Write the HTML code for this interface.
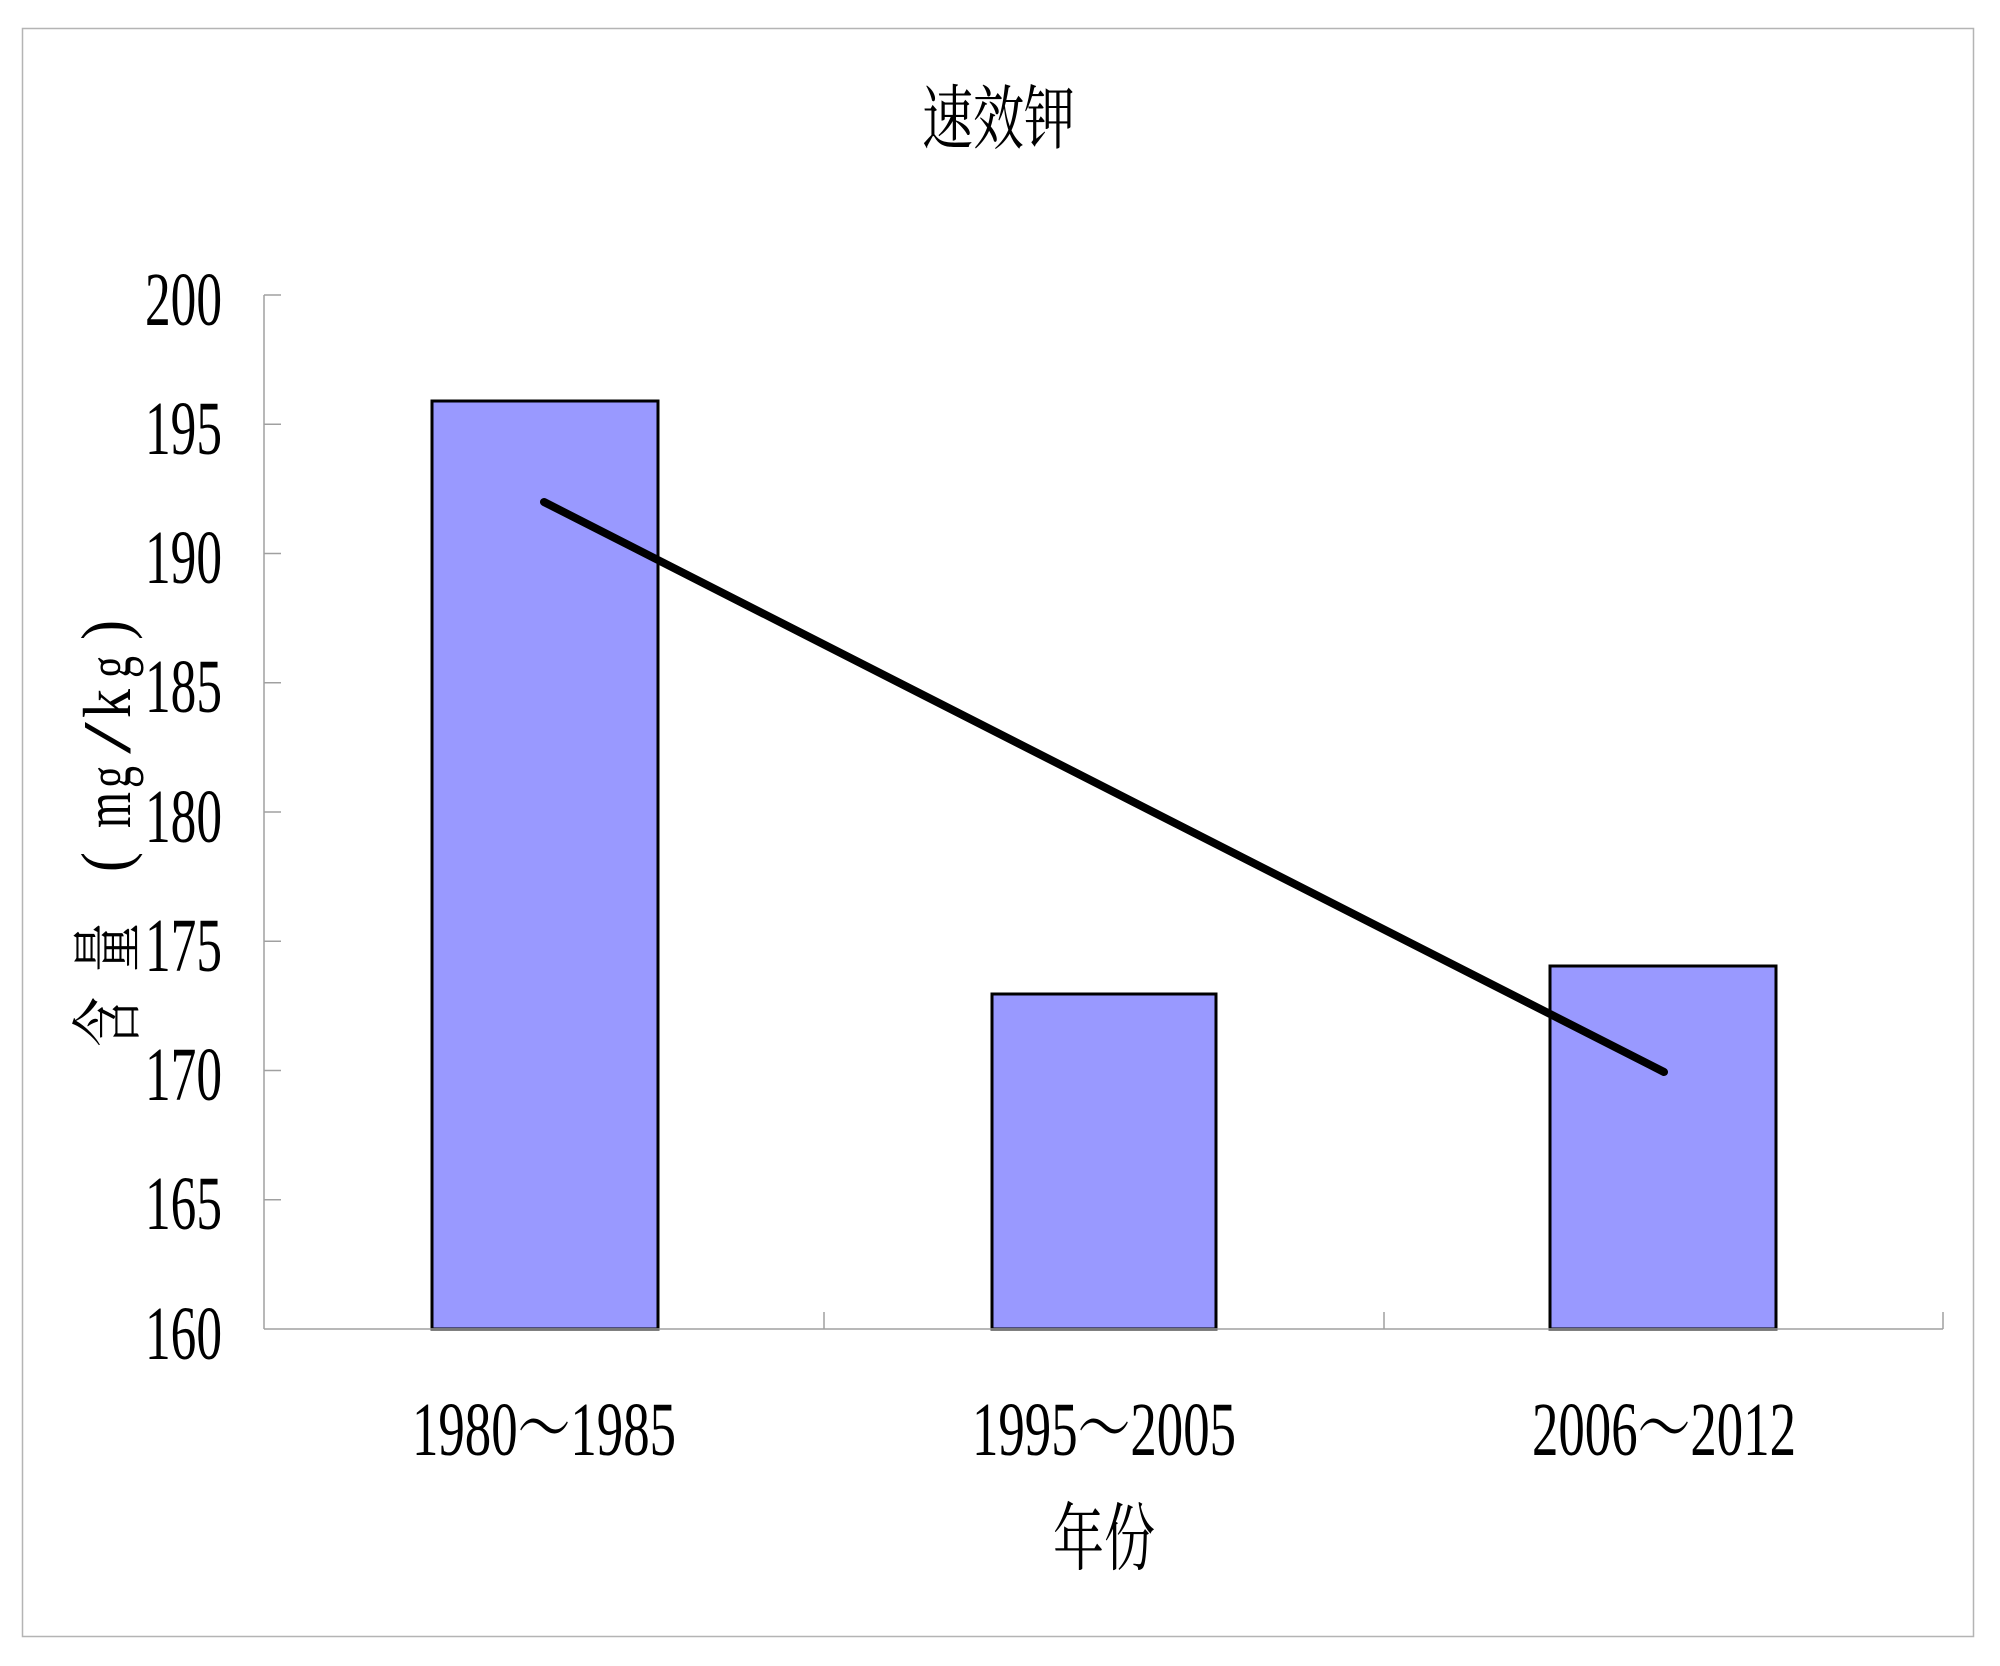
<!DOCTYPE html>
<html>
<head>
<meta charset="utf-8">
<style>
  html, body { margin: 0; padding: 0; background: #ffffff; }
  body { width: 2000px; height: 1666px; overflow: hidden; }
  svg { display: block; }
  .num { font-family: "Liberation Serif", "Noto Serif CJK SC", serif; fill: #000; }
  .cjk { font-family: "Liberation Serif", "Noto Serif CJK SC", serif; fill: #000; }
  .lat { font-family: "Liberation Serif", serif; fill: #000; }
</style>
</head>
<body>
<svg width="2000" height="1666" viewBox="0 0 2000 1666" xmlns="http://www.w3.org/2000/svg">
  <rect x="0" y="0" width="2000" height="1666" fill="#ffffff"/>
  <!-- outer chart border -->
  <rect x="22.5" y="28.5" width="1951" height="1608" fill="none" stroke="#b4b4b4" stroke-width="1.5"/>

  <!-- title -->
  <text class="cjk" x="922" y="143" font-size="70" textLength="153" lengthAdjust="spacingAndGlyphs">速效钾</text>

  <!-- y axis -->
  <line x1="264" y1="295" x2="264" y2="1329" stroke="#a0a0a0" stroke-width="1.5"/>
  <g stroke="#a0a0a0" stroke-width="1.5">
    <line x1="264" y1="295" x2="281" y2="295"/>
    <line x1="264" y1="424.25" x2="281" y2="424.25"/>
    <line x1="264" y1="553.5" x2="281" y2="553.5"/>
    <line x1="264" y1="682.75" x2="281" y2="682.75"/>
    <line x1="264" y1="812" x2="281" y2="812"/>
    <line x1="264" y1="941.25" x2="281" y2="941.25"/>
    <line x1="264" y1="1070.5" x2="281" y2="1070.5"/>
    <line x1="264" y1="1199.75" x2="281" y2="1199.75"/>
  </g>

  <!-- y tick labels -->
  <g class="num" font-size="76">
    <text x="145" y="325" textLength="77" lengthAdjust="spacingAndGlyphs">200</text>
    <text x="145" y="454" textLength="77" lengthAdjust="spacingAndGlyphs">195</text>
    <text x="145" y="583" textLength="77" lengthAdjust="spacingAndGlyphs">190</text>
    <text x="145" y="712" textLength="77" lengthAdjust="spacingAndGlyphs">185</text>
    <text x="145" y="842" textLength="77" lengthAdjust="spacingAndGlyphs">180</text>
    <text x="145" y="971" textLength="77" lengthAdjust="spacingAndGlyphs">175</text>
    <text x="145" y="1100" textLength="77" lengthAdjust="spacingAndGlyphs">170</text>
    <text x="145" y="1229" textLength="77" lengthAdjust="spacingAndGlyphs">165</text>
    <text x="145" y="1359" textLength="77" lengthAdjust="spacingAndGlyphs">160</text>
  </g>

  <!-- y axis title: rotated; in group coords u = -screenY, v = screenX -->
  <g transform="rotate(-90)">
    <text class="cjk" font-size="72" x="-1047" y="133" textLength="50" lengthAdjust="spacingAndGlyphs">含</text>
    <text class="cjk" font-size="72" x="-972" y="133" textLength="49" lengthAdjust="spacingAndGlyphs">量</text>
    <text class="lat" font-size="68" x="-872" y="128" textLength="20" lengthAdjust="spacingAndGlyphs">(</text>
    <text class="lat" font-size="68" x="-828" y="130" textLength="36" lengthAdjust="spacingAndGlyphs">m</text>
    <text class="lat" font-size="62" x="-788" y="130" textLength="22" lengthAdjust="spacingAndGlyphs">g</text>
    <text class="lat" font-size="68" x="-754" y="130" textLength="32" lengthAdjust="spacingAndGlyphs">/</text>
    <text class="lat" font-size="68" x="-718" y="130" textLength="29" lengthAdjust="spacingAndGlyphs">k</text>
    <text class="lat" font-size="62" x="-678" y="130" textLength="22" lengthAdjust="spacingAndGlyphs">g</text>
    <text class="lat" font-size="68" x="-640" y="128" textLength="20" lengthAdjust="spacingAndGlyphs">)</text>
  </g>

  <!-- bars -->
  <g fill="#9999ff" stroke="#000000" stroke-width="3">
    <rect x="432" y="401" width="226" height="928"/>
    <rect x="992" y="994" width="224" height="335"/>
    <rect x="1550" y="966" width="226" height="363"/>
  </g>

  <!-- x axis -->
  <line x1="264" y1="1329" x2="1943" y2="1329" stroke="#a0a0a0" stroke-width="1.5"/>
  <g stroke="#a0a0a0" stroke-width="1.5">
    <line x1="824" y1="1329" x2="824" y2="1312"/>
    <line x1="1384" y1="1329" x2="1384" y2="1312"/>
    <line x1="1943" y1="1329" x2="1943" y2="1312"/>
  </g>

  <!-- trend line -->
  <line x1="544" y1="502" x2="1664" y2="1072" stroke="#000000" stroke-width="8" stroke-linecap="round"/>

  <!-- category labels -->
  <g class="num" font-size="76">
    <text x="412" y="1455" textLength="264" lengthAdjust="spacingAndGlyphs">1980～1985</text>
    <text x="972" y="1455" textLength="264" lengthAdjust="spacingAndGlyphs">1995～2005</text>
    <text x="1532" y="1455" textLength="264" lengthAdjust="spacingAndGlyphs">2006～2012</text>
  </g>

  <!-- x axis title -->
  <text class="cjk" x="1053" y="1564" font-size="74" textLength="102" lengthAdjust="spacingAndGlyphs">年份</text>
</svg>
</body>
</html>
